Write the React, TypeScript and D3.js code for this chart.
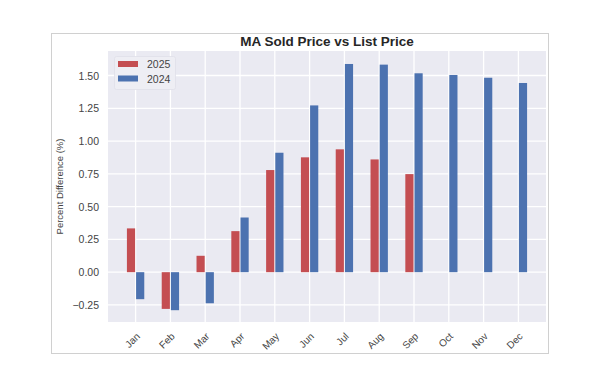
import React from 'react';
import * as d3 from 'd3';

// month categories and percent difference (sold vs list) per year
const months = ['Jan', 'Feb', 'Mar', 'Apr', 'May', 'Jun', 'Jul', 'Aug', 'Sep', 'Oct', 'Nov', 'Dec'];
const values2025: (number | null)[] = [0.334, -0.28, 0.125, 0.313, 0.779, 0.876, 0.937, 0.86, 0.748, null, null, null];
const values2024 = [-0.206, -0.29, -0.237, 0.417, 0.911, 1.272, 1.588, 1.583, 1.517, 1.504, 1.483, 1.443];
const yTicks = [-0.25, 0, 0.25, 0.5, 0.75, 1.0, 1.25, 1.5];
const seriesNames = ['2025', '2024'];
const colors = ['#c44e52', '#4c72b0'];

const W = 600;
const H = 387;
const plot = { left: 108, right: 546, top: 51, bottom: 322 };
const font = 'Arial, "Liberation Sans", sans-serif';

const App = () => {
  const x = d3.scaleBand<string>()
    .domain(months)
    .range([plot.left, plot.right])
    .paddingInner(0)
    .paddingOuter(0.293);

  const y = d3.scaleLinear()
    .domain([-0.38, 1.687])
    .range([plot.bottom, plot.top]);

  const step = x.step();
  const barW = step * 0.235;
  const center = (m: string) => (x(m) as number) + x.bandwidth() / 2;

  const bar = (v: number | null, cx: number, color: string, key: string) => {
    if (v === null) return null;
    const y0 = y(0);
    const yv = y(v);
    return (
      <rect
        key={key}
        x={cx}
        y={Math.min(y0, yv)}
        width={barW}
        height={Math.abs(yv - y0)}
        fill={color}
      />
    );
  };

  return (
    <svg width={W} height={H} style={{ position: 'absolute', left: 0, top: 0, background: '#fff' }}>
      {/* figure frame */}
      <rect x={51.5} y={33.5} width={497} height={320} fill="#fff" stroke="#d0d0d0" strokeWidth={1} />

      <text x={327} y={46} textAnchor="middle" fontFamily={font} fontWeight="bold" fontSize={13.5} fill="#262626">
        MA Sold Price vs List Price
      </text>

      {/* axes background */}
      <rect x={plot.left} y={plot.top} width={plot.right - plot.left} height={plot.bottom - plot.top} fill="#eaeaf2" />

      {/* gridlines */}
      {yTicks.map((t) => (
        <line key={`gy${t}`} x1={plot.left} x2={plot.right} y1={y(t)} y2={y(t)} stroke="#fff" strokeWidth={1.3} />
      ))}
      {months.map((m) => (
        <line key={`gx${m}`} x1={center(m)} x2={center(m)} y1={plot.top} y2={plot.bottom} stroke="#fff" strokeWidth={1.3} />
      ))}

      {/* bars */}
      {months.map((m, i) => (
        <g key={m}>
          {bar(values2025[i], center(m) - barW - 0.5, colors[0], `a${m}`)}
          {bar(values2024[i], center(m) + 0.5, colors[1], `b${m}`)}
        </g>
      ))}

      {/* y tick labels */}
      {yTicks.map((t) => (
        <text key={`ty${t}`} x={plot.left - 9} y={y(t) + 4} textAnchor="end" fontFamily={font} fontSize={10.5} fill="#444">
          {t < 0 ? '\u22120.25' : t.toFixed(2)}
        </text>
      ))}

      <text
        transform={`translate(63,${(plot.top + plot.bottom) / 2}) rotate(-90)`}
        textAnchor="middle"
        fontFamily={font}
        fontSize={9.5}
        fill="#444"
      >
        Percent Difference (%)
      </text>

      {/* x tick labels */}
      {months.map((m) => (
        <text
          key={`tx${m}`}
          transform={`translate(${center(m) + 5},${plot.bottom + 15}) rotate(-45)`}
          textAnchor="end"
          fontFamily={font}
          fontSize={10}
          fill="#444"
        >
          {m}
        </text>
      ))}

      {/* legend */}
      <rect x={114.5} y={56.5} width={61} height={33} rx={2} fill="#eeeef4" stroke="#e0e0e8" strokeWidth={0.8} />
      {seriesNames.map((s, i) => (
        <g key={s}>
          <rect x={118} y={61 + i * 14.5} width={20} height={6} fill={colors[i]} />
          <text x={147} y={68 + i * 14.5} fontFamily={font} fontSize={10.5} fill="#444">
            {s}
          </text>
        </g>
      ))}
    </svg>
  );
};

export default App;
